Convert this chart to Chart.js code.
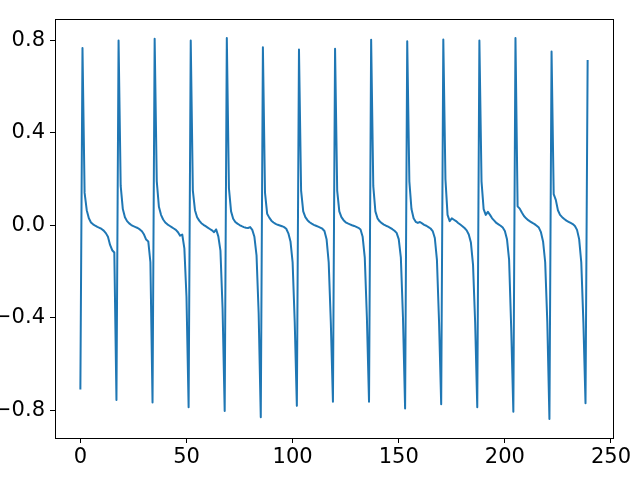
<!DOCTYPE html>
<html>
<head>
    <title>Spike train</title>
    <script src="https://cdn.jsdelivr.net/npm/chart.js"></script>
    <style>
        body { margin: 0; background: #fff; }
        #wrap { width: 640px; height: 480px; }
    </style>
</head>
<body>
<div id="wrap"><canvas id="chart" width="640" height="480"></canvas></div>
<script>
// one row per cycle: low, spike, then the slow decay back down
const signal = [
    -0.71, 0.767, 0.14, 0.065, 0.03, 0.012, 0.004, -0.002, -0.007, -0.011, -0.016, -0.023, -0.034, -0.05, -0.085, -0.108, -0.118,
    -0.756, 0.799, 0.17, 0.07, 0.035, 0.018, 0.008, 0.001, -0.004, -0.008, -0.012, -0.018, -0.026, -0.04, -0.062, -0.07, -0.16,
    -0.766, 0.807, 0.19, 0.08, 0.045, 0.025, 0.012, 0.004, -0.002, -0.008, -0.014, -0.02, -0.03, -0.045, -0.04, -0.1, -0.31,
    -0.787, 0.799, 0.15, 0.065, 0.035, 0.02, 0.009, 0.002, -0.004, -0.01, -0.016, -0.022, -0.03, -0.018, -0.048, -0.11, -0.36,
    -0.803, 0.81, 0.16, 0.06, 0.028, 0.014, 0.007, 0.001, -0.004, -0.008, -0.011, -0.012, -0.008, -0.02, -0.05, -0.13, -0.38,
    -0.83, 0.77, 0.14, 0.05, 0.033, 0.02, 0.012, 0.006, 0.002, -0.001, -0.004, -0.008, -0.015, -0.035, -0.07, -0.16, -0.42,
    -0.781, 0.76, 0.15, 0.06, 0.035, 0.022, 0.013, 0.007, 0.002, -0.002, -0.006, -0.01, -0.015, -0.025, -0.06, -0.16, -0.42,
    -0.763, 0.763, 0.15, 0.06, 0.035, 0.022, 0.013, 0.008, 0.004, 0.0, -0.003, -0.007, -0.011, -0.018, -0.05, -0.14, -0.4,
    -0.763, 0.802, 0.17, 0.06, 0.03, 0.017, 0.009, 0.003, -0.002, -0.006, -0.011, -0.017, -0.024, -0.033, -0.06, -0.14, -0.4,
    -0.792, 0.796, 0.19, 0.07, 0.03, 0.015, 0.01, 0.014, 0.008, 0.002, -0.002, -0.008, -0.014, -0.025, -0.055, -0.15, -0.42,
    -0.774, 0.803, 0.2, 0.045, 0.018, 0.03, 0.024, 0.018, 0.01, 0.003, -0.004, -0.012, -0.022, -0.04, -0.075, -0.17, -0.42,
    -0.787, 0.799, 0.19, 0.07, 0.045, 0.058, 0.045, 0.03, 0.02, 0.01, 0.004, -0.002, -0.01, -0.025, -0.06, -0.15, -0.45,
    -0.806, 0.81, 0.082, 0.072, 0.055, 0.04, 0.03, 0.022, 0.016, 0.01, 0.005, -0.002, -0.01, -0.03, -0.07, -0.16, -0.42,
    -0.838, 0.751, 0.135, 0.11, 0.065, 0.045, 0.035, 0.027, 0.02, 0.015, 0.01, 0.005, -0.003, -0.02, -0.06, -0.16, -0.42,
    -0.77, 0.715
];

const xTicks = [0, 50, 100, 150, 200, 250];
const yTicks = [-0.8, -0.4, 0.0, 0.4, 0.8];

// draws the top and right spines too
const frame = {
    id: 'frame',
    afterDraw(chart) {
        const a = chart.chartArea, ctx = chart.ctx;
        ctx.save();
        ctx.strokeStyle = '#000';
        ctx.lineWidth = 1;
        ctx.strokeRect(Math.round(a.left) + 0.5, Math.round(a.top) + 0.5,
            Math.round(a.right - a.left), Math.round(a.bottom - a.top));
        ctx.restore();
    }
};

const tickFont = { family: 'DejaVu Sans', size: 21 };

new Chart(document.getElementById('chart'), {
    type: 'line',
    data: {
        datasets: [{
            data: signal.map((v, i) => ({ x: i, y: v })),
            borderColor: '#1f77b4',
            borderWidth: 2,
            borderJoinStyle: 'round',
            pointRadius: 0,
            fill: false,
            tension: 0
        }]
    },
    options: {
        responsive: false,
        animation: false,
        layout: { padding: { top: 19, right: 27, left: 0, bottom: 0 } },
        plugins: { legend: { display: false }, tooltip: { enabled: false } },
        scales: {
            x: {
                type: 'linear',
                min: -11.95,
                max: 250.95,
                afterBuildTicks: s => { s.ticks = xTicks.map(v => ({ value: v })); },
                afterFit: s => { s.height = 42; },
                grid: { display: true, drawOnChartArea: false, drawTicks: true, tickLength: 5, color: '#000' },
                border: { display: false },
                ticks: { color: '#000', font: tickFont, padding: 2, maxRotation: 0, callback: v => String(v) }
            },
            y: {
                min: -0.92,
                max: 0.892,
                afterBuildTicks: s => { s.ticks = yTicks.map(v => ({ value: v })); },
                afterFit: s => { s.width = 55; },
                grid: { display: true, drawOnChartArea: false, drawTicks: true, tickLength: 5, color: '#000' },
                border: { display: false },
                ticks: {
                    color: '#000', font: tickFont, padding: 5,
                    callback: v => (v < 0 ? '\u2212' : '') + Math.abs(v).toFixed(1)
                }
            }
        }
    },
    plugins: [frame]
});
</script>
</body>
</html>
